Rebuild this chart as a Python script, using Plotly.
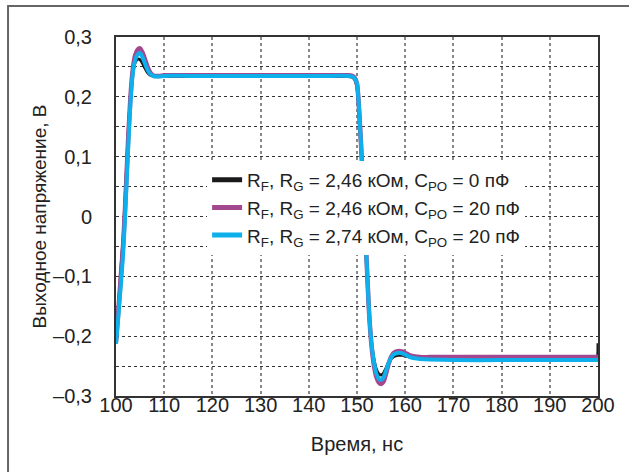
import plotly.graph_objects as go

t = [100, 100.5, 101, 101.5, 102, 102.5, 103, 103.5, 104, 104.5, 105, 105.5, 106, 106.5,
     107, 107.5, 108, 109, 110, 115, 120, 125, 130, 135, 140, 145, 148, 149, 149.5, 150,
     150.5, 151, 151.5, 152, 152.5, 153, 153.5, 154, 154.5, 155, 155.5, 156, 156.5, 157,
     157.5, 158, 158.5, 159, 159.5, 160, 160.5, 161, 162, 163, 165, 170, 180, 190, 199,
     199.8, 200]

v_black = [-0.205, -0.15, -0.09, -0.035, 0.05, 0.135, 0.2, 0.24, 0.258, 0.263, 0.262, 0.256,
           0.248, 0.241, 0.237, 0.235, 0.234, 0.234, 0.234, 0.234, 0.234, 0.234, 0.234, 0.234,
           0.234, 0.234, 0.234, 0.233, 0.229, 0.215, 0.16, 0.085, 0.0, -0.085, -0.165, -0.21,
           -0.238, -0.255, -0.263, -0.265, -0.262, -0.254, -0.245, -0.239, -0.235, -0.233,
           -0.232, -0.232, -0.232, -0.233, -0.234, -0.235, -0.236, -0.237, -0.237, -0.237,
           -0.237, -0.237, -0.237, -0.236, -0.212]

v_purple = [-0.21, -0.157, -0.1, -0.045, 0.035, 0.125, 0.2, 0.247, 0.27, 0.279, 0.281, 0.274,
            0.263, 0.251, 0.242, 0.237, 0.235, 0.235, 0.236, 0.236, 0.236, 0.236, 0.236, 0.236,
            0.236, 0.236, 0.236, 0.235, 0.232, 0.222, 0.17, 0.095, 0.01, -0.075, -0.16, -0.215,
            -0.248, -0.268, -0.277, -0.28, -0.276, -0.263, -0.248, -0.236, -0.229, -0.226,
            -0.225, -0.225, -0.226, -0.228, -0.23, -0.232, -0.234, -0.235, -0.235, -0.235,
            -0.235, -0.235, -0.235, -0.235, -0.235]

v_cyan = [-0.213, -0.165, -0.115, -0.06, 0.02, 0.11, 0.19, 0.24, 0.262, 0.271, 0.273, 0.266,
          0.256, 0.246, 0.239, 0.236, 0.234, 0.234, 0.235, 0.235, 0.235, 0.235, 0.235, 0.235,
          0.235, 0.235, 0.235, 0.234, 0.231, 0.222, 0.17, 0.095, 0.01, -0.075, -0.16, -0.212,
          -0.242, -0.262, -0.271, -0.273, -0.269, -0.258, -0.246, -0.237, -0.231, -0.229,
          -0.228, -0.228, -0.229, -0.231, -0.233, -0.235, -0.237, -0.238, -0.239, -0.24,
          -0.24, -0.24, -0.24, -0.24, -0.24]

names = [
    "R<sub>F</sub>, R<sub>G</sub> = 2,46 кОм, C<sub>PO</sub> = 0 пФ",
    "R<sub>F</sub>, R<sub>G</sub> = 2,46 кОм, C<sub>PO</sub> = 20 пФ",
    "R<sub>F</sub>, R<sub>G</sub> = 2,74 кОм, C<sub>PO</sub> = 20 пФ",
]
colors = ["#1a1a1a", "#a3478f", "#0eb0ec"]
widths = [3, 4.5, 4]

y_tickvals = [-0.3, -0.25, -0.2, -0.15, -0.1, -0.05, 0, 0.05, 0.1, 0.15, 0.2, 0.25, 0.3]
y_ticktext = ["–0,3", "", "–0,2", "", "–0,1", "", "0", "", "0,1", "", "0,2", "", "0,3"]
x_tickvals = [100, 110, 120, 130, 140, 150, 160, 170, 180, 190, 200]

fig = go.Figure()
for vals, nm, c, w in zip([v_black, v_purple, v_cyan], names, colors, widths):
    fig.add_trace(go.Scatter(x=t, y=vals, mode="lines", name=nm,
                             line=dict(color=c, width=w, shape="spline", smoothing=0.6)))

fam = "Liberation Sans, Arial, sans-serif"
font = dict(family=fam, size=20, color="#222")

fig.update_layout(
    width=629, height=472,
    margin=dict(l=116, r=31, t=37, b=76),
    paper_bgcolor="white", plot_bgcolor="white",
    font=font,
    showlegend=True,
    legend=dict(x=0.189, y=0.655, xanchor="left", yanchor="top",
                bgcolor="white", borderwidth=0, font=dict(family=fam, size=19, color="#222"),
                tracegroupgap=0, itemsizing="constant"),
    xaxis=dict(range=[100, 200], tickvals=x_tickvals, ticktext=[str(v) for v in x_tickvals],
               showline=True, linecolor="#333", linewidth=2, mirror=True,
               showgrid=True, gridcolor="#888", griddash="dot", gridwidth=1.5,
               zeroline=False, ticks="", ticklabelstandoff=-10,
               tickfont=dict(family=fam, size=20, color="#222"),
               title=dict(text="Время, нс", font=dict(family=fam, size=20, color="#222"), standoff=22)),
    yaxis=dict(range=[-0.3, 0.3], tickvals=y_tickvals, ticktext=y_ticktext,
               showline=True, linecolor="#333", linewidth=2, mirror=True,
               showgrid=True, gridcolor="#333", griddash="dot", gridwidth=1.2,
               zeroline=False, ticks="", ticklabelstandoff=18,
               tickfont=dict(family=fam, size=20, color="#222"),
               title=dict(text="Выходное напряжение, В", font=dict(family=fam, size=19, color="#222"), standoff=1)),
    shapes=[dict(type="rect", xref="paper", yref="paper",
                 x0=-0.224, x1=1.09, y0=-0.3, y1=1.0864,
                 line=dict(color="#666", width=2), layer="below")],
)

fig.write_html("out.html")
